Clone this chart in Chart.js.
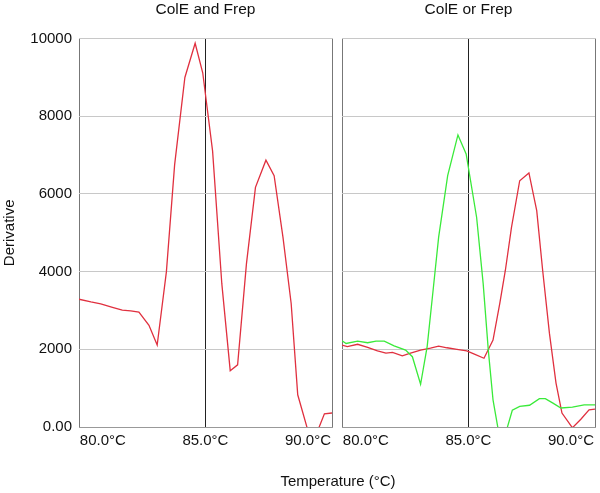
<!DOCTYPE html>
<html>
<head>
<meta charset="utf-8">
<script src="https://cdn.jsdelivr.net/npm/chart.js@4"></script>
<style>
  body { margin: 0; background: #fff; }
  #wrap { position: relative; width: 600px; height: 493px; overflow: hidden; }
  canvas { position: absolute; top: 0; }
  #andChart { left: 0; }
  #orChart { left: 337px; }
  #xTitle {
    position: absolute; left: 79px; width: 518px; top: 472px;
    text-align: center; font: 15px Arial, "Liberation Sans", sans-serif; color: #111;
  }
</style>
</head>
<body>
<div id="wrap">
  <canvas id="andChart" width="337" height="493"></canvas>
  <canvas id="orChart" width="263" height="493"></canvas>
  <div id="xTitle">Temperature (°C)</div>
</div>
<script>
// datos
const panelTitles = ['ColE and Frep', 'ColE or Frep'];
const tempTicks = [80, 85, 90];
const yTicks = [0, 2000, 4000, 6000, 8000, 10000];
const tempMin = 78.84;
const tempMax = 91.17;

// panel izquierdo: ColE and Frep (rojo)
const andTemps = [78.84, 79.42, 79.9, 80.47, 80.95, 81.36, 81.76, 82.25, 82.65, 83.1, 83.5, 84.0, 84.5, 84.87,
  85.35, 85.8, 86.21, 86.57, 87.0, 87.44, 87.95, 88.35, 88.78, 89.18, 89.5, 90.0, 90.47, 90.8, 91.17];
const andRed = [3290, 3220, 3170, 3080, 3010, 2990, 2960, 2620, 2110, 4000, 6750, 9000, 9880, 9120,
  7110, 3690, 1450, 1600, 4200, 6170, 6870, 6470, 4890, 3180, 830, -100, -100, 340, 360];

// panel derecho: ColE or Frep (verde y rojo)
const orGreenTemps = [78.84, 79.04, 79.6, 80.09, 80.5, 80.9, 81.38, 81.94, 82.27, 82.67, 82.99, 83.28, 83.55, 83.99,
  84.49, 84.89, 85.4, 85.72, 85.97, 86.2, 86.48, 86.82, 87.14, 87.5, 87.98, 88.46, 88.75, 89.1, 89.51, 90.07, 90.64, 91.17];
const orGreen = [2220, 2150, 2210, 2170, 2210, 2210, 2090, 1980, 1810, 1100, 2070, 3520, 4890, 6470,
  7520, 7030, 5400, 3690, 1980, 700, -150, -150, 430, 530, 560, 730, 730, 620, 490, 510, 570, 570];

const orRedTemps = [78.84, 79.1, 79.6, 80.09, 80.57, 80.98, 81.3, 81.78, 82.18, 82.67, 83.15, 83.55, 83.96, 84.44,
  84.92, 85.32, 85.76, 86.2, 86.53, 86.8, 87.1, 87.5, 87.95, 88.33, 88.62, 88.95, 89.27, 89.56, 90.07, 90.48, 90.88, 91.17];
const orRed = [2110, 2070, 2130, 2050, 1960, 1900, 1920, 1830, 1900, 1980, 2030, 2080, 2040, 2000,
  1960, 1870, 1770, 2240, 3180, 4030, 5140, 6340, 6540, 5570, 4030, 2410, 1130, 360, -20, 200, 440, 460];

const RED = '#e0303f';
const GREEN = '#3aea3a';

Chart.defaults.font.family = 'Arial, "Liberation Sans", sans-serif';
Chart.defaults.font.size = 15;
Chart.defaults.color = '#111';

function toPoints(xs, ys) {
  return xs.map((x, i) => ({ x: x, y: ys[i] }));
}

function lineSet(xs, ys, color) {
  return {
    data: toPoints(xs, ys),
    borderColor: color,
    borderWidth: 1.3,
    pointRadius: 0,
    tension: 0,
    fill: false
  };
}

function makeOptions(title, showY) {
  return {
    responsive: false,
    animation: false,
    layout: { padding: { left: 0, right: 3, top: 0, bottom: 0 } },
    plugins: {
      legend: { display: false },
      tooltip: { enabled: false },
      title: {
        display: true,
        text: title,
        fullSize: false,
        font: { size: 15.5, weight: 'normal' },
        color: '#111',
        padding: { top: 0, bottom: 20 }
      }
    },
    scales: {
      x: {
        type: 'linear',
        min: tempMin,
        max: tempMax,
        afterBuildTicks: (s) => {
          s.ticks = [tempMin].concat(tempTicks, [tempMax]).map(v => ({ value: v }));
        },
        afterFit: (s) => { s.height = 66; },
        ticks: {
          autoSkip: false,
          maxRotation: 0,
          padding: 5,
          callback: (v) => tempTicks.includes(v) ? v.toFixed(1) + '°C' : ''
        },
        grid: {
          drawTicks: false,
          color: (ctx) => {
            const v = ctx.tick ? ctx.tick.value : null;
            if (v === 85) return '#222';
            if (v === tempMin || v === tempMax) return '#777';
            return 'rgba(0,0,0,0)';
          }
        },
        border: { color: '#999' }
      },
      y: {
        min: 0,
        max: 10000,
        afterBuildTicks: (s) => { s.ticks = yTicks.map(v => ({ value: v })); },
        afterFit: (s) => { s.width = showY ? 79 : 4; },
        ticks: {
          display: showY,
          padding: 7,
          callback: (v) => v === 0 ? '0.00' : String(v)
        },
        grid: { drawTicks: false, color: '#c8c8c8' },
        border: { display: false },
        title: {
          display: showY,
          text: 'Derivative',
          padding: { top: 1, bottom: 0 }
        }
      }
    }
  };
}

new Chart(document.getElementById('andChart'), {
  type: 'line',
  data: { datasets: [lineSet(andTemps, andRed, RED)] },
  options: makeOptions(panelTitles[0], true)
});

new Chart(document.getElementById('orChart'), {
  type: 'line',
  data: { datasets: [lineSet(orGreenTemps, orGreen, GREEN), lineSet(orRedTemps, orRed, RED)] },
  options: makeOptions(panelTitles[1], false)
});
</script>
</body>
</html>
